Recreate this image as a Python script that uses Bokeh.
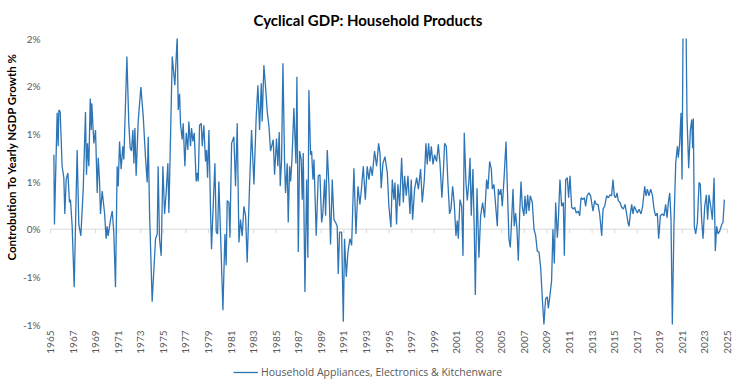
import math
from bokeh.plotting import figure
from bokeh.models import Range1d, FixedTicker, Span, Legend, LegendItem, Title, ColumnDataSource
from bokeh.core.properties import value
from bokeh.embed import file_html
from bokeh.resources import INLINE

title_text = "Cyclical GDP: Household Products"
y_axis_title = "Controbution To Yearly NGDP Growth %"
series_name = "Household Appliances, Electronics & Kitchenware"
year_ticks = list(range(1965, 2026, 2))
y_ticks = [-1.0, -0.5, 0.0, 0.5, 1.0, 1.5, 2.0]
y_tick_labels = ["-1%", "-1%", "0%", "1%", "1%", "2%", "2%"]

years_1965_1984 = [
    1965.30, 1965.35, 1965.59, 1965.68, 1965.74, 1965.86, 1966.03, 1966.18, 1966.27, 1966.39,
    1966.54, 1966.68, 1966.77, 1966.92, 1967.10, 1967.36, 1967.51, 1967.69, 1967.90, 1968.10,
    1968.19, 1968.28, 1968.40, 1968.52, 1968.61, 1968.66, 1968.84, 1968.99, 1969.14, 1969.23,
    1969.34, 1969.43, 1969.58, 1969.79, 1969.93, 1970.02, 1970.11, 1970.32, 1970.47, 1970.61,
    1970.76, 1970.91, 1971.00, 1971.12, 1971.26, 1971.41, 1971.50, 1971.77, 1971.94, 1972.06,
    1972.18, 1972.30, 1972.39, 1972.48, 1972.59, 1972.77, 1973.01, 1973.22, 1973.42, 1973.57,
    1973.66, 1973.78, 1974.01, 1974.31, 1974.46, 1974.54, 1974.66, 1974.81, 1974.96, 1975.11,
    1975.25, 1975.40, 1975.49, 1975.61, 1975.79, 1976.02, 1976.23, 1976.32, 1976.44, 1976.52,
    1976.67, 1976.76, 1976.91, 1977.03, 1977.17, 1977.26, 1977.41, 1977.50, 1977.62, 1977.74,
    1977.91, 1978.00, 1978.09, 1978.21, 1978.36, 1978.45, 1978.59, 1978.74, 1978.83, 1978.92,
    1979.04, 1979.18, 1979.27, 1979.39, 1979.57, 1979.69, 1979.81, 1979.92, 1980.10, 1980.28,
    1980.46, 1980.57, 1980.66, 1980.81, 1980.90, 1981.05, 1981.25, 1981.40, 1981.55, 1981.70,
    1981.84, 1981.99, 1982.14, 1982.29, 1982.43, 1982.64, 1982.82, 1983.03, 1983.23, 1983.38,
    1983.53, 1983.68, 1983.76, 1983.91, 1984.06, 1984.21, 1984.36,
]
values_1965_1984 = [
    0.78, 0.05, 1.22, 0.87, 1.25, 1.23, 0.66, 0.54, 0.16, 0.52,
    0.59, 0.28, 0.31, 0.03, -0.61, 0.83, 0.05, -0.07, 0.42, 1.23,
    0.57, 0.90, 0.66, 1.37, 1.04, 1.32, 0.90, 1.04, 0.38, 0.75,
    0.52, 0.16, 0.40, 0.17, -0.10, 0.03, -0.07, 0.10, 0.19, -0.03,
    -0.61, 0.66, 0.45, 0.92, 0.63, 0.87, 0.73, 1.81, 1.11, 0.85,
    0.82, 1.04, 0.69, 1.06, 0.56, 1.13, 1.49, 1.18, 0.75, 0.49,
    0.97, 0.17, -0.76, -0.10, -0.05, 0.66, -0.10, -0.28, 0.66, 0.16,
    0.38, 0.69, 0.17, 0.82, 1.81, 1.51, 2.02, 1.25, 1.42, 1.11,
    0.94, 1.11, 0.66, 1.01, 0.83, 1.13, 0.87, 1.06, 0.92, 1.01,
    0.50, 0.59, 0.50, 1.09, 1.11, 0.87, 1.09, 0.71, 0.83, 0.54,
    1.04, 0.21, -0.21, 0.16, 0.69, -0.03, -0.05, 0.50, -0.16, -0.85,
    -0.05, -0.38, 0.30, 0.28, -0.09, 0.90, 0.97, 0.45, 1.11, -0.14,
    0.10, -0.07, 0.24, 0.14, -0.35, 0.45, 1.04, 0.47, 1.18, 1.51,
    1.04, 1.53, 1.13, 1.72, 1.49, 1.23, 1.08,
]

years_1984_2004 = [
    1984.50, 1984.74, 1984.86, 1985.03, 1985.15, 1985.27, 1985.36, 1985.48, 1985.60, 1985.74,
    1985.83, 1985.98, 1986.07, 1986.19, 1986.28, 1986.40, 1986.57, 1986.75, 1986.84, 1986.96,
    1987.08, 1987.22, 1987.31, 1987.40, 1987.55, 1987.70, 1987.81, 1987.90, 1988.05, 1988.14,
    1988.26, 1988.35, 1988.55, 1988.73, 1988.88, 1989.03, 1989.14, 1989.29, 1989.38, 1989.53,
    1989.68, 1989.82, 1989.97, 1990.12, 1990.27, 1990.41, 1990.50, 1990.62, 1990.80, 1990.95,
    1991.06, 1991.21, 1991.36, 1991.54, 1991.69, 1991.89, 1992.07, 1992.25, 1992.42, 1992.54,
    1992.72, 1992.90, 1993.07, 1993.22, 1993.37, 1993.52, 1993.72, 1993.90, 1994.08, 1994.20,
    1994.31, 1994.46, 1994.64, 1994.85, 1994.99, 1995.17, 1995.29, 1995.44, 1995.53, 1995.67,
    1995.79, 1995.94, 1996.12, 1996.27, 1996.38, 1996.53, 1996.68, 1996.86, 1996.97, 1997.09,
    1997.27, 1997.45, 1997.60, 1997.80, 1997.95, 1998.13, 1998.27, 1998.39, 1998.51, 1998.63,
    1998.75, 1998.90, 1999.04, 1999.22, 1999.37, 1999.52, 1999.69, 1999.81, 1999.93, 2000.08,
    2000.22, 2000.37, 2000.49, 2000.64, 2000.79, 2000.93, 2001.05, 2001.14, 2001.29, 2001.44,
    2001.56, 2001.67, 2001.82, 2001.94, 2002.09, 2002.18, 2002.29, 2002.44, 2002.56, 2002.65,
    2002.80, 2002.97, 2003.12, 2003.30, 2003.47, 2003.65, 2003.77, 2003.92, 2004.07, 2004.16,
    2004.30,
]
values_1984_2004 = [
    0.82, 0.94, 0.57, 0.95, 0.66, 1.02, 0.45, 0.73, 1.74, 0.73,
    0.38, 0.69, 0.07, 0.66, 0.50, 0.73, 1.27, 0.69, 1.60, -0.24,
    0.82, 0.73, 0.31, 0.80, -0.66, 0.52, -0.30, 1.46, 0.78, 0.82,
    0.52, 0.73, -0.07, 0.56, 0.57, 0.07, 0.17, 0.52, 0.14, 0.83,
    0.45, -0.16, 0.52, 0.10, 0.07, 0.03, -0.47, -0.03, -0.03, -0.97,
    -0.10, -0.50, -0.24, -0.10, -0.17, 0.64, -0.05, 0.45, 0.26, 0.40,
    0.66, 0.31, 0.66, 0.52, 0.66, 0.56, 0.82, 0.66, 0.90, 0.80,
    0.43, 0.69, 0.76, 0.59, 0.24, 0.02, 0.52, 0.31, 0.49, 0.05,
    0.47, 0.24, 0.75, 0.28, 0.56, 0.35, 0.56, 0.16, 0.52, 0.10,
    0.42, 0.54, 0.42, 0.63, 0.28, 0.52, 0.90, 0.68, 0.90, 0.71,
    0.87, 0.68, 0.78, 0.71, 0.89, 0.69, 0.33, 0.59, 0.90, 0.87,
    0.49, 0.16, 0.21, 0.45, 0.26, -0.07, 0.09, -0.10, 0.31, 0.24,
    -0.28, 1.01, 0.49, 0.30, 0.52, 0.75, 0.14, 0.63, -0.03, -0.69,
    0.43, -0.30, 0.14, 0.28, 0.12, 0.52, 0.42, 0.71, 0.63, 0.42,
    0.47,
]

years_2004_2024 = [
    2004.60, 2004.69, 2004.80, 2004.92, 2005.04, 2005.19, 2005.37, 2005.48, 2005.63, 2005.75,
    2005.87, 2005.99, 2006.10, 2006.22, 2006.34, 2006.46, 2006.58, 2006.70, 2006.81, 2006.96,
    2007.05, 2007.17, 2007.29, 2007.41, 2007.52, 2007.70, 2007.85, 2008.00, 2008.14, 2008.29,
    2008.44, 2008.59, 2008.73, 2008.88, 2009.03, 2009.12, 2009.27, 2009.41, 2009.53, 2009.65,
    2009.77, 2009.92, 2010.01, 2010.15, 2010.30, 2010.45, 2010.54, 2010.66, 2010.80, 2010.92,
    2011.04, 2011.19, 2011.34, 2011.45, 2011.60, 2011.78, 2011.90, 2012.02, 2012.16, 2012.31,
    2012.43, 2012.55, 2012.72, 2012.87, 2013.08, 2013.23, 2013.37, 2013.52, 2013.67, 2013.85,
    2013.97, 2014.11, 2014.29, 2014.44, 2014.59, 2014.73, 2014.85, 2014.97, 2015.09, 2015.21,
    2015.32, 2015.47, 2015.62, 2015.77, 2015.92, 2016.06, 2016.18, 2016.27, 2016.39, 2016.51,
    2016.62, 2016.74, 2016.86, 2017.01, 2017.16, 2017.33, 2017.48, 2017.66, 2017.78, 2017.90,
    2018.04, 2018.19, 2018.34, 2018.49, 2018.63, 2018.78, 2018.90, 2019.05, 2019.23, 2019.37,
    2019.52, 2019.64, 2019.76, 2019.88, 2019.99, 2020.11, 2020.26, 2020.41, 2020.56, 2020.64,
    2020.76, 2020.88, 2020.97, 2021.09, 2021.29, 2021.41, 2021.56, 2021.71, 2021.83, 2021.91,
    2021.97, 2022.06, 2022.18, 2022.33, 2022.48, 2022.59, 2022.71, 2022.83, 2022.98, 2023.13,
    2023.24, 2023.36, 2023.51, 2023.66, 2023.81, 2023.92, 2024.04, 2024.16, 2024.31, 2024.49,
    2024.60, 2024.72,
]
values_2004_2024 = [
    0.03, 0.42, 0.36, 0.42, 0.24, 0.52, 0.92, 0.47, -0.10, -0.19,
    0.10, 0.42, 0.03, 0.17, 0.00, -0.33, 0.16, 0.50, 0.24, 0.14,
    0.35, 0.16, 0.36, 0.19, 0.35, 0.28, 0.00, -0.07, -0.23, -0.24,
    -0.40, -0.73, -1.00, -0.73, -0.71, -0.83, -0.69, -0.54, 0.00, -0.36,
    0.28, -0.09, 0.10, 0.52, 0.24, 0.28, -0.28, 0.52, 0.54, 0.33,
    0.56, 0.23, 0.21, 0.23, 0.17, 0.19, 0.14, 0.33, 0.31, 0.33,
    0.24, 0.35, 0.38, 0.35, 0.19, 0.30, 0.26, 0.26, 0.16, -0.07,
    0.21, 0.24, 0.35, 0.33, 0.36, 0.35, 0.52, 0.35, 0.33, 0.38,
    0.30, 0.28, 0.23, 0.21, 0.26, 0.16, 0.07, 0.03, 0.16, 0.26,
    0.16, 0.24, 0.21, 0.17, 0.21, 0.16, 0.24, 0.45, 0.35, 0.42,
    0.35, 0.42, 0.36, 0.21, 0.14, 0.17, -0.10, 0.14, 0.16, 0.14,
    0.26, 0.12, 0.28, 0.38, 0.12, -1.00, 0.07, 0.69, 0.87, 0.75,
    0.90, 1.22, 0.52, 2.60, 2.50, 1.18, 0.64, 1.04, 1.15, 0.85,
    1.16, 0.03, -0.05, 0.07, 0.49, 0.47, 0.10, -0.10, 0.24, 0.36,
    0.10, 0.36, 0.24, 0.10, 0.54, -0.23, 0.03, -0.05, -0.02, 0.05,
    0.07, 0.31,
]

years = years_1965_1984 + years_1984_2004 + years_2004_2024
contribution = values_1965_1984 + values_1984_2004 + values_2004_2024
assert len(years) == len(contribution)

# plot geometry: value axis -1..2 fills 286px; frame extends 64px lower to hold
# the year labels and the legend (the reference places them under the plot area)
y_min, y_max = -1.0, 2.0
px_per_unit = 286 / (y_max - y_min)
y_low = y_min - 64 / px_per_unit
x_min, x_max = 1965, 2025
px_per_year = 677 / (x_max - x_min)
x_pad = 6 / px_per_year

p = figure(frame_width=689, frame_height=350, output_backend="svg", toolbar_location=None,
           x_range=Range1d(x_min - x_pad, x_max + x_pad), y_range=Range1d(y_low, y_max),
           min_border_left=44, min_border_right=1, min_border_top=38, min_border_bottom=0,
           background_fill_color="white", border_fill_color="white")
p.outline_line_color = None
p.xgrid.visible = False
p.ygrid.visible = False
p.xaxis.visible = False

p.title.text = title_text
p.title.align = "left"
p.title.offset = 209
p.title.vertical_align = "top"
p.title.text_font = "Lato"
p.title.text_font_size = "15px"
p.title.text_font_style = "bold"
p.title.text_color = "#000000"
p.title.standoff = 16

# horizontal category axis drawn at zero, spanning the plot area
p.segment(x0=[x_min], y0=[0], x1=[x_max], y1=[0], line_color="#d9d9d9", line_width=1, level="underlay")
p.segment(x0=year_ticks, y0=[0] * len(year_ticks), x1=year_ticks,
          y1=[-4 / px_per_unit] * len(year_ticks), line_color="#d9d9d9", line_width=1, level="underlay")

r = p.line(years, contribution, line_color="#2E75B6", line_width=1.3)

# year labels (category axis labels under the plot area)
year_src = ColumnDataSource(dict(x=year_ticks, y=[y_min - 6 / px_per_unit] * len(year_ticks),
                                 t=[str(yv) for yv in year_ticks]))
p.text(x="x", y="y", text="t", source=year_src, angle=math.pi / 2,
       text_align="right", text_baseline="middle",
       text_font=value("Lato"), text_font_size=value("10px"), text_color="#595959")

ya = p.yaxis[0]
ya.ticker = FixedTicker(ticks=y_ticks)
ya.major_label_overrides = {t: l for t, l in zip(y_ticks, y_tick_labels)}
ya.axis_line_color = None
ya.major_tick_line_color = None
ya.minor_tick_line_color = None
ya.major_tick_out = 0
ya.major_tick_in = 0
ya.minor_tick_out = 0
ya.major_label_text_font = "Lato"
ya.major_label_text_font_size = "10px"
ya.major_label_text_color = "#595959"
ya.major_label_standoff = 4

ytitle = Title(text=y_axis_title, align="left", offset=128,
               text_font="Lato", text_font_size="11.5px", text_font_style="bold",
               text_color="#000000", standoff=4)
p.add_layout(ytitle, "left")

legend = Legend(items=[LegendItem(label=series_name, renderers=[r])],
                orientation="horizontal", location=(189, 9),
                border_line_color=None, background_fill_alpha=0,
                label_text_font="Open Sans", label_text_font_size="10.5px",
                label_text_color="#595959", glyph_width=25, glyph_height=12,
                label_standoff=3, padding=2, margin=0, spacing=0)
p.add_layout(legend, "center")

open("out.html", "w").write(file_html(p, INLINE))
